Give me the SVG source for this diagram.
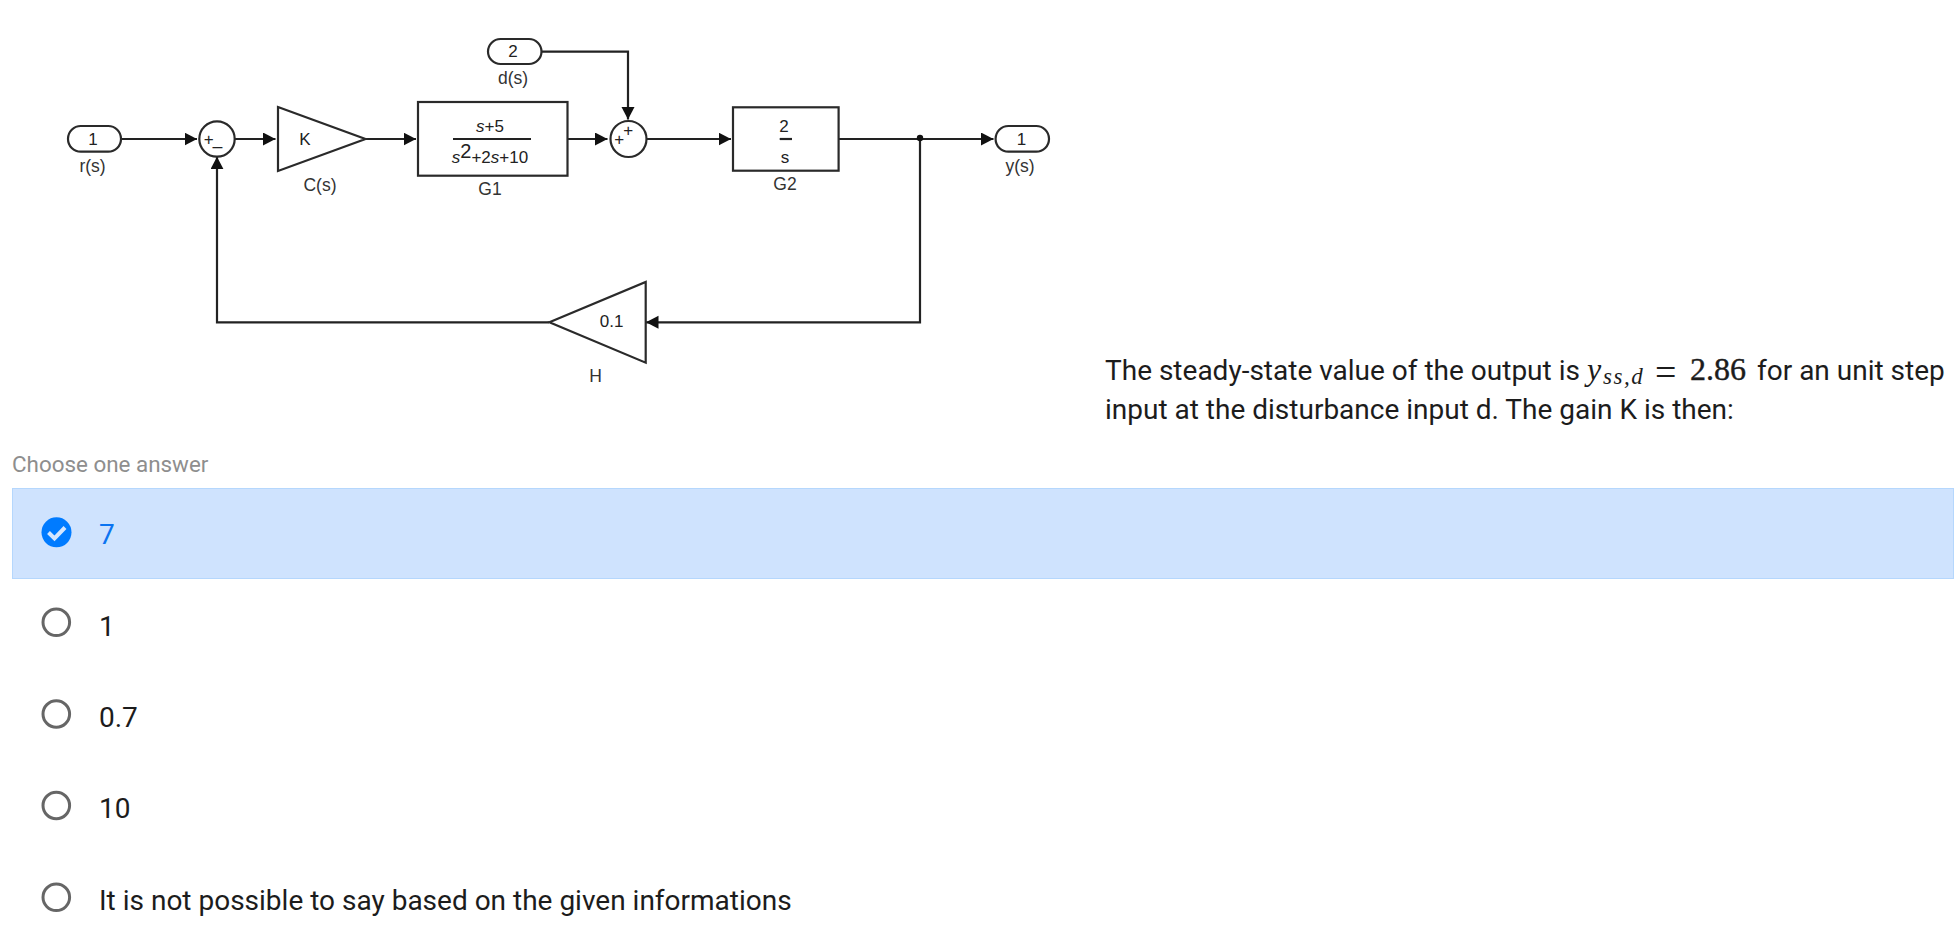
<svg xmlns="http://www.w3.org/2000/svg" width="1958" height="935" viewBox="0 0 1958 935">
<defs>
<marker id="ah" markerUnits="userSpaceOnUse" markerWidth="13" markerHeight="14" refX="12.5" refY="6.5" orient="auto"><path d="M0 0L12.500 6.500L0 13Z" fill="#111"/></marker>
</defs>
<style>
.b{fill:#fff;stroke:#2a2a2a;stroke-width:2.200}
.c{fill:none;stroke:#222;stroke-width:2.200;marker-end:url(#ah)}
.n{fill:none;stroke:#222;stroke-width:2.200}
.t{font-family:"Liberation Sans",Arial,sans-serif;font-size:17px;fill:#222;text-anchor:middle}
.l{font-family:"Liberation Sans",Arial,sans-serif;font-size:17.500px;fill:#333;text-anchor:middle}
.q{font-family:Roboto,"Liberation Sans",sans-serif;font-size:28px;fill:#1c1c1c}
.m{font-family:"Liberation Serif",serif;fill:#1c1c1c}
.a{font-family:Roboto,"Liberation Sans",sans-serif;font-size:28px;fill:#1c1c1c}
.r{fill:#fff;stroke:#666;stroke-width:3}
</style>
<rect width="1958" height="935" fill="#fff"/>
<g id="connectors">
<path class="c" d="M121 139H197"/>
<path class="c" d="M235 139H275.500"/>
<path class="c" d="M365 139H416"/>
<path class="c" d="M567.500 139H607.500"/>
<path class="c" d="M646.500 139H731"/>
<path class="c" d="M838.600 139H993.500"/>
<path class="c" d="M541.500 51.700H628V119.500"/>
<path class="c" d="M920 139V322.300H646"/>
<path class="c" d="M549 322.300H217V156.700"/>
<circle cx="920" cy="138" r="3.200" fill="#111"/>
</g>
<g id="in1"><rect class="b" x="68" y="126" width="53" height="25.700" rx="12.800"/><text class="t" x="93" y="145">1</text><text class="l" x="92.600" y="172">r(s)</text></g>
<g id="in2"><rect class="b" x="488" y="39" width="53.500" height="25" rx="12.500"/><text class="t" x="513" y="57">2</text><text class="l" x="513" y="84">d(s)</text></g>
<g id="sum1"><circle class="b" cx="217" cy="139" r="17.700"/><text class="t" x="208.600" y="144.500">+</text><text class="t" x="217.500" y="144.500">_</text></g>
<g id="cs"><path class="b" d="M278 107L365.500 139L278 171Z"/><text class="t" x="305" y="145">K</text><text class="l" x="320" y="191">C(s)</text></g>
<g id="g1"><rect class="b" x="418" y="102" width="149.500" height="73.700"/><path class="n" d="M453 139H531"/><text class="t" x="490" y="132"><tspan font-style="italic">s</tspan>+5</text><text class="t" x="490" y="162.500"><tspan font-style="italic">s</tspan><tspan dy="-5" font-size="20">2</tspan><tspan dy="5">+2</tspan><tspan font-style="italic">s</tspan>+10</text><text class="l" x="490" y="195">G1</text></g>
<g id="sum2"><circle class="b" cx="628.500" cy="139" r="18"/><text class="t" x="619.200" y="144.500">+</text><text class="t" x="628.200" y="136">+</text></g>
<g id="g2"><rect class="b" x="733" y="107.300" width="105.600" height="63.400"/><path class="n" d="M779.700 139H792"/><text class="t" x="784" y="131.500">2</text><text class="t" x="785" y="162.500">s</text><text class="l" x="785" y="190">G2</text></g>
<g id="out"><rect class="b" x="995.600" y="126" width="53.400" height="25.700" rx="12.800"/><text class="t" x="1021.400" y="145">1</text><text class="l" x="1020" y="172">y(s)</text></g>
<g id="h"><path class="b" d="M645.700 282V362.700L549.400 322.300Z"/><text class="t" x="611.600" y="327">0.1</text><text class="l" x="595.500" y="382">H</text></g>
<g id="question">
<text class="q" x="1105" y="380">The steady-state value of the output is</text>
<text class="m" x="1587" y="380" font-size="32" font-style="italic">y</text>
<text class="m" x="1603" y="384" font-size="23" font-style="italic" letter-spacing="1.500">ss,d</text>
<text class="m" x="1655" y="385" font-size="38">=</text>
<text class="m" x="1690" y="380" font-size="32" stroke="#1c1c1c" stroke-width=".4">2.86</text>
<text class="q" x="1757" y="380">for an unit step</text>
<text class="q" x="1105" y="419">input at the disturbance input d. The gain K is then:</text>
</g>
<g id="answers">
<text x="12" y="471.700" font-family="Roboto,'Liberation Sans',sans-serif" font-size="22.400" fill="#8e8e8e">Choose one answer</text>
<rect x="12.500" y="488.500" width="1941" height="90" fill="#cfe3fe" stroke="#b5d7fd" stroke-width="1"/>
<circle cx="56.500" cy="532.300" r="15" fill="#007bff"/>
<path d="M48.500 532.500L54.500 538.500L65 527.500" fill="none" stroke="#d5e6fe" stroke-width="4"/>
<text class="a" x="99" y="544" style="fill:#0b74f1">7</text>
<circle class="r" cx="56.300" cy="622.300" r="13.300"/><text class="a" x="99" y="635.700">1</text>
<circle class="r" cx="56.300" cy="714" r="13.300"/><text class="a" x="99" y="726.700">0.7</text>
<circle class="r" cx="56.300" cy="805.500" r="13.300"/><text class="a" x="99" y="817.700">10</text>
<circle class="r" cx="56.300" cy="897.300" r="13.300"/><text class="a" x="99" y="910">It is not possible to say based on the given informations</text>
</g>
</svg>
